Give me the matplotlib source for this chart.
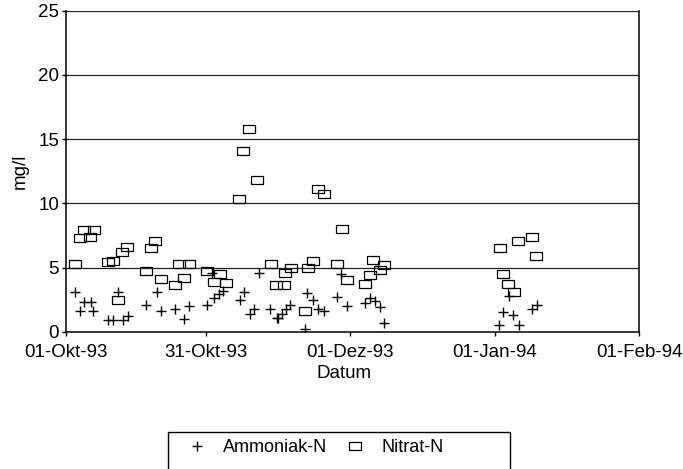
import numpy as np
import pandas as pd
import matplotlib
matplotlib.use("Agg")
import matplotlib.pyplot as plt
from matplotlib.patches import Rectangle

plt.rcParams['font.family'] = ['Liberation Sans', 'DejaVu Sans']

start = pd.Timestamp("1993-10-01")

# days after 01-Okt-93, values in mg/l
ammon_days = [1.9, 3.8, 5.3, 3.1, 5.9, 9.1, 10.0, 12.2, 13.4, 11.2, 17.2, 19.5,
              20.4, 23.4, 26.3, 25.3, 30.2, 31.8, 32.9, 33.8, 31.3, 37.3, 38.3,
              39.4, 40.4, 41.5, 43.8, 45.2, 45.5, 46.3, 47.2, 48.1, 51.8, 53.1,
              51.3, 54.2, 55.4, 59.1, 58.2, 60.3, 64.1, 65.2, 66.3, 67.4, 68.3,
              95.1, 93.7, 96.0, 93.0, 97.3, 100.1, 101.0]
ammon_vals = [3.1, 2.3, 2.3, 1.6, 1.6, 0.9, 0.9, 0.9, 1.2, 3.1, 2.1, 3.1,
              1.6, 1.75, 2.0, 1.0, 2.1, 2.65, 2.9, 3.2, 4.6, 2.5, 3.1,
              1.4, 1.75, 4.6, 1.75, 1.1, 1.1, 1.35, 1.75, 2.1, 3.0, 2.5,
              0.25, 1.8, 1.6, 4.5, 2.7, 2.0, 2.2, 2.65, 2.4, 1.9, 0.65,
              2.8, 1.5, 1.3, 0.5, 0.5, 1.75, 2.05]

nitrat_days = [1.9, 3.1, 3.8, 5.1, 6.0, 9.0, 10.2, 12.0, 13.1, 11.2, 17.2, 18.2,
               19.2, 20.3, 23.4, 25.3, 24.2, 26.3, 30.2, 31.7, 33.0, 34.3, 37.1,
               38.0, 39.2, 41.1, 44.1, 45.1, 46.8, 47.0, 48.2, 51.3, 52.0, 53.1,
               54.2, 55.3, 59.2, 58.2, 60.3, 64.1, 65.2, 66.0, 67.4, 68.3,
               93.1, 97.0, 100.1, 100.9, 93.8, 94.9, 96.2]
nitrat_vals = [5.3, 7.3, 7.9, 7.4, 7.9, 5.4, 5.5, 6.2, 6.6, 2.5, 4.7, 6.5,
               7.1, 4.1, 3.6, 4.2, 5.3, 5.3, 4.7, 3.9, 4.5, 3.8, 10.3,
               14.1, 15.8, 11.8, 5.3, 3.6, 3.6, 4.6, 5.0, 1.6, 5.0, 5.5,
               11.1, 10.7, 8.0, 5.3, 4.0, 3.7, 4.4, 5.6, 4.8, 5.2,
               6.5, 7.1, 7.4, 5.9, 4.5, 3.7, 3.1]

tick_dates = ["1993-10-01", "1993-10-31", "1993-12-01", "1994-01-01", "1994-02-01"]
tick_labels = ["01-Okt-93", "31-Okt-93", "01-Dez-93", "01-Jan-94", "01-Feb-94"]

ammon_x = start + pd.to_timedelta(ammon_days, unit="D")
nitrat_x = start + pd.to_timedelta(nitrat_days, unit="D")

fig = plt.figure(figsize=(6.83, 4.69), dpi=100)
ax = fig.add_axes([0.0966, 0.2927, 0.839, 0.6845])

rect = [(-1.3, -1), (1.3, -1), (1.3, 1), (-1.3, 1), (-1.3, -1)]
ax.plot(ammon_x, ammon_vals, linestyle='none', marker='+', color='black',
        markersize=7, markeredgewidth=1.0, label='Ammoniak-N')
ax.plot(nitrat_x, nitrat_vals, linestyle='none', marker=rect, color='black',
        markerfacecolor='none', markersize=8, markeredgewidth=0.9, label='Nitrat-N')

ax.set_ylim(0, 25)
ax.set_yticks([0, 5, 10, 15, 20, 25])
ax.set_xlim(pd.Timestamp(tick_dates[0]), pd.Timestamp(tick_dates[-1]))
ax.set_xticks(pd.to_datetime(tick_dates))
ax.set_xticklabels(tick_labels)

for v in [5, 10, 15, 20, 25]:
    ax.axhline(v, color='#222222', linewidth=0.9, zorder=0)

ax.spines['top'].set_visible(False)
for s in ['left', 'bottom', 'right']:
    ax.spines[s].set_linewidth(1.1)
ax.tick_params(direction='out', length=3, width=1, labelsize=13.5)
ax.tick_params(axis='x', pad=6)
ax.tick_params(axis='y', pad=2)

ax.set_xlabel("Datum", fontsize=13.5)
ax.xaxis.set_label_coords(0.485, -0.13)
ax.xaxis.label.set_va('center')
ax.set_ylabel("mg/l", fontsize=13.5)
ax.yaxis.set_label_coords(-0.08, 0.5)
ax.yaxis.label.set_va('center')

fig.legend(loc='center left', bbox_to_anchor=(0.2753, 0.0448), ncol=2,
           fontsize=13, frameon=False, handlelength=1.0, handletextpad=0.95,
           columnspacing=1.05, borderpad=0, borderaxespad=0)
fig.add_artist(Rectangle((168 / 683, -0.01), 342 / 683, 0.089,
                         transform=fig.transFigure, fill=False,
                         edgecolor='black', linewidth=1.0))

fig.savefig("out.png", dpi=100)
